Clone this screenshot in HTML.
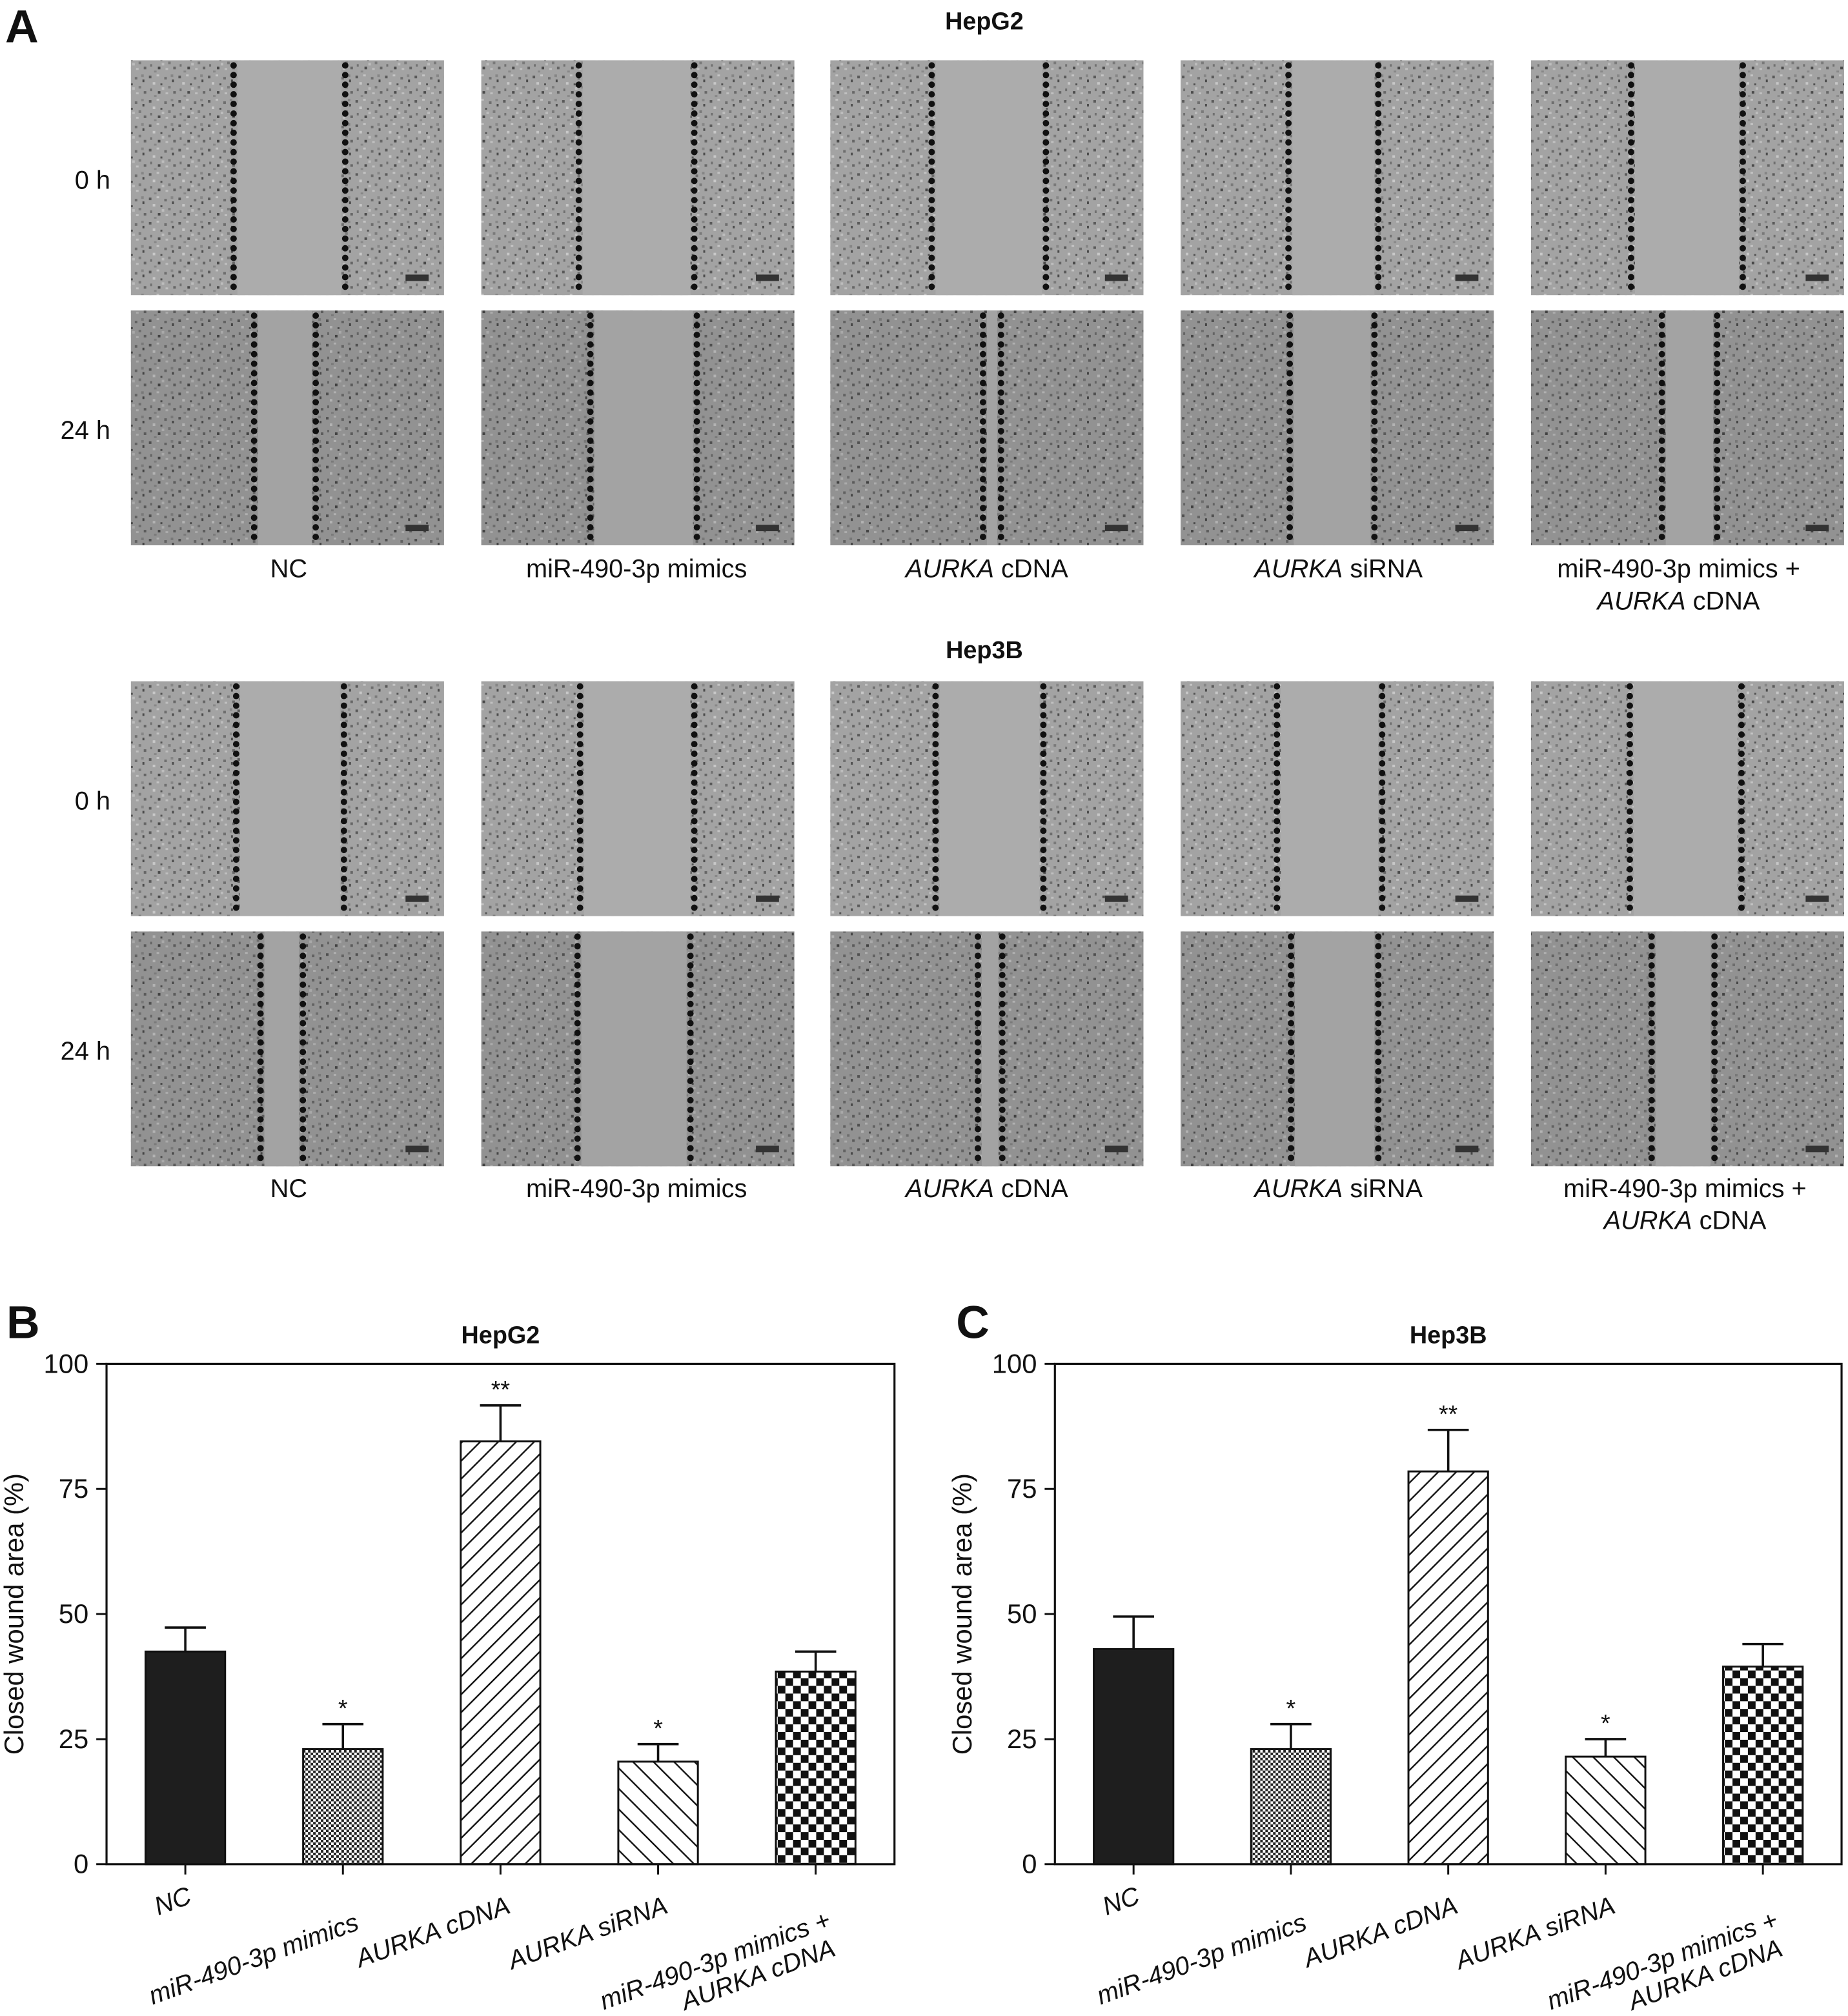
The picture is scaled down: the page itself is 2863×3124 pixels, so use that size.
<!DOCTYPE html>
<html><head><meta charset="utf-8"><style>
html,body{margin:0;padding:0;background:#fff}
svg{display:block}
text{font-family:"Liberation Sans","DejaVu Sans",sans-serif;fill:#111}
</style></head><body>
<svg id="fig" xmlns="http://www.w3.org/2000/svg" width="2863" height="3124" viewBox="0 0 1440 1571.3">
<defs>
<pattern id="speck" width="23" height="19" patternUnits="userSpaceOnUse">
<rect width="23" height="19" fill="#a3a3a3"/>
<rect x="1" y="2" width="2" height="2" fill="#5a5a5a"/><rect x="7" y="1" width="2" height="1.5" fill="#c4c4c4"/>
<rect x="13" y="3" width="2" height="2" fill="#6e6e6e"/><rect x="19" y="5" width="1.5" height="2" fill="#4c4c4c"/>
<rect x="4" y="7" width="2" height="2" fill="#c8c8c8"/><rect x="10" y="8" width="1.5" height="1.5" fill="#555"/>
<rect x="16" y="10" width="2" height="2" fill="#7a7a7a"/><rect x="2" y="12" width="1.5" height="2" fill="#707070"/>
<rect x="8" y="14" width="2" height="2" fill="#4a4a4a"/><rect x="14" y="15" width="2" height="1.5" fill="#c0c0c0"/>
<rect x="20" y="14" width="2" height="2" fill="#666"/><rect x="5" y="17" width="2" height="1.5" fill="#888"/>
<rect x="11" y="11" width="2" height="2" fill="#bdbdbd"/><rect x="18" y="1" width="2" height="2" fill="#868686"/>
</pattern>
<pattern id="fineCheck" width="4" height="4" patternUnits="userSpaceOnUse"><rect width="4" height="4" fill="#fff"/><rect width="2" height="2" fill="#222"/><rect x="2" y="2" width="2" height="2" fill="#222"/></pattern>
<pattern id="bigCheck" width="12" height="12" patternUnits="userSpaceOnUse"><rect width="12" height="12" fill="#fff"/><rect width="6" height="6" fill="#111"/><rect x="6" y="6" width="6" height="6" fill="#111"/></pattern>
<pattern id="fwd" width="14" height="14" patternUnits="userSpaceOnUse"><rect width="14" height="14" fill="#fff"/><path d="M-2,16 L16,-2 M-2,2 L2,-2 M12,16 L16,12" stroke="#111" stroke-width="1.2"/></pattern>
<pattern id="back" width="16" height="16" patternUnits="userSpaceOnUse"><rect width="16" height="16" fill="#fff"/><path d="M-2,-2 L18,18 M-2,14 L2,18 M14,-2 L18,2" stroke="#111" stroke-width="1.2"/></pattern>
</defs>

<text x="4" y="33" font-size="36" font-weight="bold">A</text>
<text x="767" y="23" font-size="19" font-weight="bold" text-anchor="middle">HepG2</text>
<text x="767" y="513" font-size="19" font-weight="bold" text-anchor="middle">Hep3B</text>
<g id="micro"></g>
<g id="chartB"></g>
<g id="chartC"></g>
</svg>

<script>
var NS='http://www.w3.org/2000/svg';
function mk(tag,attrs,parent,txt){var e=document.createElementNS(NS,tag);for(var k in attrs)e.setAttribute(k,attrs[k]);if(txt!==undefined)e.textContent=txt;parent.appendChild(e);return e;}

// ---------- bar charts ----------
var categories=['NC','miR-490-3p mimics','AURKA cDNA','AURKA siRNA','miR-490-3p mimics + AURKA cDNA'];
var hepg2Values=[42.5,23,84.5,20.5,38.5];
var hepg2Err=[4.8,5,7.2,3.5,4];
var hep3bValues=[43,23,78.5,21.5,39.5];
var hep3bErr=[6.5,5,8.3,3.5,4.5];
var sigMarks=['','*','**','*',''];
var yTicks=[0,25,50,75,100];
var fills=['#1e1e1e','url(#fineCheck)','url(#fwd)','url(#back)','url(#bigCheck)'];

function chart(gid,left,right,title,letter,letterX,vals,errs){
  var g=document.getElementById(gid);
  var top=1063,bottom=1453;
  function ys(v){return bottom-(v/100)*(bottom-top);}
  var step=(right-left)/5;
  function xs(i){return left+step*(i+0.5);}
  var bw=62;
  var L=mk('text',{x:letterX,y:1043,'font-size':36,'font-weight':'bold'},g,letter);
  
  
  var T=mk('text',{x:(left+right)/2,y:1047,'font-size':19,'font-weight':'bold','text-anchor':'middle'},g,title);
  
  
  var yl=mk('text',{x:0,y:0,'font-size':21,'text-anchor':'middle',transform:'translate('+(left-65)+','+((top+bottom)/2)+') rotate(-90)'},g,'Closed wound area (%)');
  
  
  for(var i=0;i<vals.length;i++){
    var v=vals[i];
    var cx=xs(i);
    var bar=mk('rect',{x:cx-bw/2,y:ys(v),width:bw,height:ys(0)-ys(v),fill:fills[i],stroke:'#111','stroke-width':1.5},g);
    
    
    var eTop=ys(v+errs[i]);
    var e=mk('path',{d:'M'+cx+','+ys(v)+' V'+eTop+' M'+(cx-16)+','+eTop+' H'+(cx+16),stroke:'#111','stroke-width':1.8,fill:'none'},g);
    
    
    if(sigMarks[i]){
      var s=mk('text',{x:cx,y:eTop-6,'font-size':19,'text-anchor':'middle'},g,sigMarks[i]);
      
      
    }
    mk('line',{x1:cx,x2:cx,y1:bottom,y2:bottom+8,stroke:'#111','stroke-width':1.5},g);
    var lbl=mk('g',{transform:'translate('+(cx+6)+','+(bottom+30)+') rotate(-20)'},g);
    
    
    var parts = i===4 ? ['miR-490-3p mimics +','AURKA cDNA'] : [categories[i]];
    for(var j=0;j<parts.length;j++){
      var off=(i===0?0:i===1?22:i===4?20:8);
      mk('text',{x:j===1?-4:0,y:j*22+off,'font-size':20,'font-style':'italic','text-anchor':'end'},lbl,parts[j]);
    }
  }
  var fr=mk('rect',{x:left,y:top,width:right-left,height:bottom-top,fill:'none',stroke:'#111','stroke-width':1.6},g);
  
  
  for(var k=0;k<yTicks.length;k++){
    var tv=yTicks[k];
    mk('line',{x1:left-8,x2:left,y1:ys(tv),y2:ys(tv),stroke:'#111','stroke-width':1.5},g);
    var t=mk('text',{x:left-14,y:ys(tv)+7,'font-size':21,'text-anchor':'end'},g,String(tv));
    
    
  }
}
try{chart('chartB',83,697,'HepG2','B',5,hepg2Values,hepg2Err);}catch(err){}
try{chart('chartC',822,1435,'Hep3B','C',745,hep3bValues,hep3bErr);}catch(err){}

// ---------- micrographs ----------
var colX=[102,375,647,920,1193];
var panelW=244, panelH=183;
var rowsY=[47,242,531,726];
var rowLabels=['0 h','24 h','0 h','24 h'];
var gaps=[
 [[182,269],[451,541],[726,815],[1004,1074],[1271,1358]],
 [[198,246],[460,543],[766,780],[1005,1071],[1295,1338]],
 [[184,268],[452,541],[729,813],[995,1077],[1270,1357]],
 [[203,236],[450,538],[762,781],[1006,1074],[1287,1336]]
];
var micro=document.getElementById('micro');
function dotLine(g,x,y){
  var d='';
  for(var yy=y+4;yy<y+panelH;yy+=7.5){
    d+='M'+(x-2.5)+','+yy+' a2.5,2.5 0 1,0 5,0 a2.5,2.5 0 1,0 -5,0 Z ';
  }
  mk('path',{d:d,fill:'#111'},g);
}
try{
for(var r=0;r<rowsY.length;r++){
  var y=rowsY[r];
  var tl=mk('text',{x:86,y:y+100,'font-size':20,'text-anchor':'end'},micro,rowLabels[r]);
  
  
  for(var c=0;c<colX.length;c++){
    var x=colX[c];
    var g=mk('g',{},micro);
    
    
    mk('rect',{x:x,y:y,width:panelW,height:panelH,fill:'url(#speck)'},g);
    if(r%2) mk('rect',{x:x,y:y,width:panelW,height:panelH,fill:'#000',opacity:0.1},g);
    var a=gaps[r][c][0], b=gaps[r][c][1];
    mk('rect',{x:a+3,y:y,width:b-a-6,height:panelH,fill:(r%2)?'#a3a3a3':'#acacac'},g);
    dotLine(g,a,y);
    dotLine(g,b,y);
    mk('rect',{x:x+panelW-30,y:y+panelH-16,width:18,height:5,fill:'#333'},g);
  }
}
}catch(err){}
var capLines=[['NC'],['miR-490-3p mimics'],[['AURKA',' cDNA']],[['AURKA',' siRNA']],['miR-490-3p mimics +',['AURKA',' cDNA']]];
var capX=[225,496,769,1043,1308];
var capY=[450,933];
try{
for(var blk=0;blk<2;blk++){
  for(var ci=0;ci<capLines.length;ci++){
    for(var lj=0;lj<capLines[ci].length;lj++){
      var ln=capLines[ci][lj];
      var cxx=(ci===4&&blk===1)?1313:capX[ci];
      var ct=mk('text',{x:cxx,y:capY[blk]+lj*25,'font-size':20,'text-anchor':'middle'},micro);
      if(typeof ln!=='string'){mk('tspan',{'font-style':'italic'},ct,ln[0]);mk('tspan',{},ct,ln[1]);}
      else ct.textContent=ln;
      
      
    }
  }
}
}catch(err){}
</script>
</body></html>
